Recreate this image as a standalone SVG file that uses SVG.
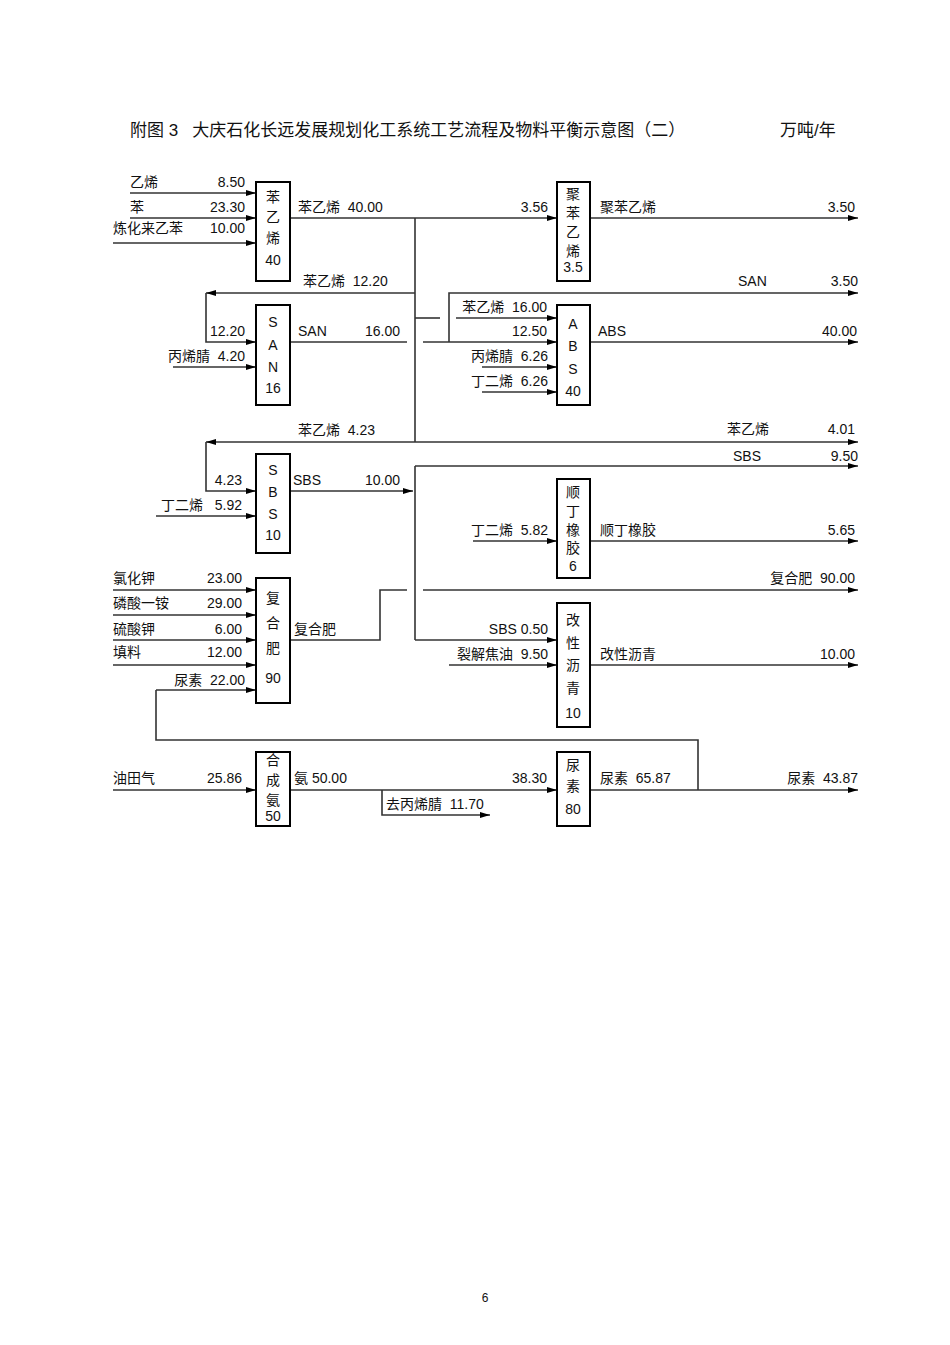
<svg xmlns="http://www.w3.org/2000/svg" width="950" height="1345" viewBox="0 0 950 1345" xml:space="preserve">
<defs>
<marker id="a" markerWidth="10" markerHeight="8" refX="10" refY="4" orient="auto" markerUnits="userSpaceOnUse"><path d="M0,1 L10,4 L0,7 Z" fill="#000"/></marker>
<style>
text{font-family:"Liberation Sans","Noto Sans CJK SC",sans-serif;font-size:14px;fill:#111;white-space:pre}
.r{text-anchor:end}.m{text-anchor:middle}
.b{fill:#fff;stroke:#000;stroke-width:2}
#c path,#c line{fill:none;stroke:#333;stroke-width:1.6}
.ar{marker-end:url(#a)}
</style>
</defs>
<rect width="950" height="1345" fill="#fff"/>
<text x="130" y="136" style="font-size:17px">附图 3   大庆石化长远发展规划化工系统工艺流程及物料平衡示意图（二）</text>
<text x="780" y="136" style="font-size:17px">万吨/年</text>
<text x="485" y="1302" class="m" style="font-size:12px">6</text>
<g id="c">
<line x1="130" y1="193" x2="256" y2="193" class="ar"/>
<line x1="130" y1="218" x2="256" y2="218" class="ar"/>
<line x1="113" y1="243" x2="256" y2="243" class="ar"/>
<line x1="290" y1="218" x2="557" y2="218" class="ar"/>
<line x1="415" y1="218" x2="415" y2="442"/>
<line x1="415" y1="293" x2="206" y2="293" class="ar"/>
<path d="M206,293 V342 H256" class="ar"/>
<line x1="173" y1="367" x2="256" y2="367" class="ar"/>
<line x1="415" y1="318" x2="440" y2="318"/>
<line x1="290" y1="342" x2="407" y2="342"/>
<line x1="423" y1="342" x2="557" y2="342" class="ar"/>
<path d="M449,342 V293 H858" class="ar"/>
<line x1="456" y1="318" x2="557" y2="318" class="ar"/>
<line x1="482" y1="367" x2="557" y2="367" class="ar"/>
<line x1="482" y1="392" x2="557" y2="392" class="ar"/>
<line x1="590" y1="342" x2="858" y2="342" class="ar"/>
<line x1="590" y1="218" x2="858" y2="218" class="ar"/>
<line x1="415" y1="442" x2="858" y2="442" class="ar"/>
<line x1="415" y1="442" x2="206" y2="442" class="ar"/>
<path d="M206,442 V491 H256" class="ar"/>
<line x1="156" y1="516" x2="256" y2="516" class="ar"/>
<line x1="290" y1="491" x2="413" y2="491" class="ar"/>
<path d="M415,466 V640"/>
<line x1="415" y1="466" x2="858" y2="466" class="ar"/>
<line x1="415" y1="640" x2="557" y2="640" class="ar"/>
<line x1="473" y1="541" x2="557" y2="541" class="ar"/>
<line x1="590" y1="541" x2="858" y2="541" class="ar"/>
<path d="M290,640 H380 V590 H407"/>
<line x1="423" y1="590" x2="858" y2="590" class="ar"/>
<line x1="449" y1="665" x2="557" y2="665" class="ar"/>
<line x1="590" y1="665" x2="858" y2="665" class="ar"/>
<line x1="113" y1="590" x2="256" y2="590" class="ar"/>
<line x1="113" y1="615" x2="256" y2="615" class="ar"/>
<line x1="113" y1="640" x2="256" y2="640" class="ar"/>
<line x1="113" y1="665" x2="256" y2="665" class="ar"/>
<line x1="156" y1="690" x2="256" y2="690" class="ar"/>
<path d="M156,690 V740 H698 V790"/>
<line x1="113" y1="790" x2="256" y2="790" class="ar"/>
<line x1="290" y1="790" x2="557" y2="790" class="ar"/>
<path d="M382,790 V815 H490" class="ar"/>
<line x1="590" y1="790" x2="858" y2="790" class="ar"/>
</g>
<g id="labels">
<text x="130" y="187">乙烯</text><text x="245" y="187" class="r">8.50</text>
<text x="130" y="212">苯</text><text x="245" y="212" class="r">23.30</text>
<text x="113" y="233">炼化来乙苯</text><text x="245" y="233" class="r">10.00</text>
<text x="298" y="212">苯乙烯  40.00</text>
<text x="548" y="212" class="r">3.56</text>
<text x="600" y="212">聚苯乙烯</text><text x="855" y="212" class="r">3.50</text>
<text x="303" y="286">苯乙烯  12.20</text>
<text x="738" y="286">SAN</text><text x="858" y="286" class="r">3.50</text>
<text x="245" y="336" class="r">12.20</text>
<text x="245" y="361" class="r">丙烯腈  4.20</text>
<text x="298" y="336">SAN</text><text x="400" y="336" class="r">16.00</text>
<text x="547" y="312" class="r">苯乙烯  16.00</text>
<text x="547" y="336" class="r">12.50</text>
<text x="548" y="361" class="r">丙烯腈  6.26</text>
<text x="548" y="386" class="r">丁二烯  6.26</text>
<text x="598" y="336">ABS</text><text x="857" y="336" class="r">40.00</text>
<text x="298" y="435">苯乙烯  4.23</text>
<text x="727" y="434">苯乙烯</text><text x="855" y="434" class="r">4.01</text>
<text x="733" y="461">SBS</text><text x="858" y="461" class="r">9.50</text>
<text x="242" y="485" class="r">4.23</text>
<text x="242" y="510" class="r">丁二烯   5.92</text>
<text x="293" y="485">SBS</text><text x="400" y="485" class="r">10.00</text>
<text x="548" y="535" class="r">丁二烯  5.82</text>
<text x="600" y="535">顺丁橡胶</text><text x="855" y="535" class="r">5.65</text>
<text x="855" y="583" class="r">复合肥  90.00</text>
<text x="548" y="634" class="r">SBS 0.50</text>
<text x="548" y="659" class="r">裂解焦油  9.50</text>
<text x="600" y="659">改性沥青</text><text x="855" y="659" class="r">10.00</text>
<text x="113" y="583">氯化钾</text><text x="242" y="583" class="r">23.00</text>
<text x="113" y="608">磷酸一铵</text><text x="242" y="608" class="r">29.00</text>
<text x="113" y="634">硫酸钾</text><text x="242" y="634" class="r">6.00</text>
<text x="113" y="657">填料</text><text x="242" y="657" class="r">12.00</text>
<text x="245" y="685" class="r">尿素  22.00</text>
<text x="294" y="634">复合肥</text>
<text x="113" y="783">油田气</text><text x="242" y="783" class="r">25.86</text>
<text x="294" y="783">氨 50.00</text>
<text x="547" y="783" class="r">38.30</text>
<text x="386" y="809">去丙烯腈  11.70</text>
<text x="600" y="783">尿素  65.87</text>
<text x="858" y="783" class="r">尿素  43.87</text>
</g>
<g id="n1"><rect class="b" x="256" y="182" width="34" height="99"/><text x="273" y="202" class="m">苯</text><text x="273" y="222" class="m">乙</text><text x="273" y="243" class="m">烯</text><text x="273" y="265" class="m">40</text></g>
<g id="n2"><rect class="b" x="256" y="305" width="34" height="100"/><text x="273" y="327" class="m">S</text><text x="273" y="350" class="m">A</text><text x="273" y="372" class="m">N</text><text x="273" y="393" class="m">16</text></g>
<g id="n3"><rect class="b" x="256" y="454" width="34" height="99"/><text x="273" y="475" class="m">S</text><text x="273" y="497" class="m">B</text><text x="273" y="519" class="m">S</text><text x="273" y="540" class="m">10</text></g>
<g id="n4"><rect class="b" x="256" y="578" width="34" height="125"/><text x="273" y="603" class="m">复</text><text x="273" y="628" class="m">合</text><text x="273" y="653" class="m">肥</text><text x="273" y="683" class="m">90</text></g>
<g id="n5"><rect class="b" x="256" y="752" width="34" height="74"/><text x="273" y="765" class="m">合</text><text x="273" y="785" class="m">成</text><text x="273" y="805" class="m">氨</text><text x="273" y="821" class="m">50</text></g>
<g id="n6"><rect class="b" x="557" y="182" width="33" height="99"/><text x="573" y="199" class="m">聚</text><text x="573" y="218" class="m">苯</text><text x="573" y="237" class="m">乙</text><text x="573" y="256" class="m">烯</text><text x="573" y="272" class="m">3.5</text></g>
<g id="n7"><rect class="b" x="557" y="305" width="33" height="100"/><text x="573" y="329" class="m">A</text><text x="573" y="351" class="m">B</text><text x="573" y="374" class="m">S</text><text x="573" y="396" class="m">40</text></g>
<g id="n8"><rect class="b" x="557" y="479" width="33" height="99"/><text x="573" y="497" class="m">顺</text><text x="573" y="516" class="m">丁</text><text x="573" y="535" class="m">橡</text><text x="573" y="553" class="m">胶</text><text x="573" y="571" class="m">6</text></g>
<g id="n9"><rect class="b" x="557" y="603" width="33" height="124"/><text x="573" y="625" class="m">改</text><text x="573" y="648" class="m">性</text><text x="573" y="670" class="m">沥</text><text x="573" y="693" class="m">青</text><text x="573" y="718" class="m">10</text></g>
<g id="n10"><rect class="b" x="557" y="752" width="33" height="74"/><text x="573" y="770" class="m">尿</text><text x="573" y="791" class="m">素</text><text x="573" y="814" class="m">80</text></g>
</svg>
